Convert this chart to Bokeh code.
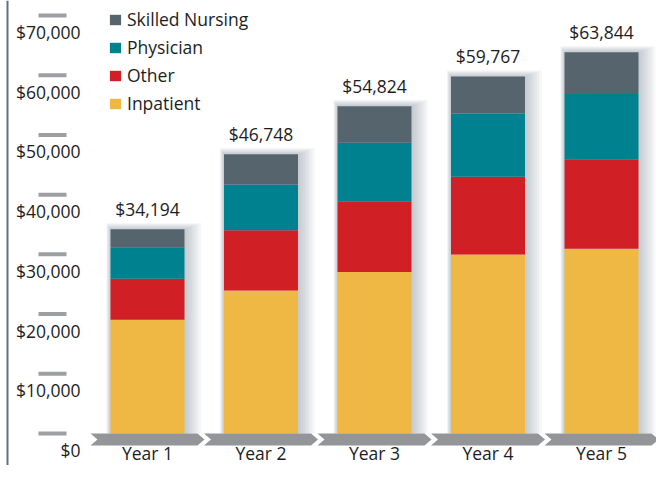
from bokeh.plotting import figure
from bokeh.models import Range1d, ColumnDataSource, Legend, LegendItem
from bokeh.core.properties import value
from bokeh.embed import file_html
from bokeh.resources import INLINE

# ---------------- data ----------------
years = ["Year 1", "Year 2", "Year 3", "Year 4", "Year 5"]
totals = [34194, 46748, 54824, 59767, 63844]
inpatient = [19050, 23940, 27040, 29970, 30940]
other = [6850, 10100, 11860, 13030, 14990]
physician = [5200, 7660, 9800, 10580, 10910]
skilled = [3090, 5050, 6120, 6190, 7000]
series = ["Inpatient", "Other", "Physician", "Skilled Nursing"]
colors = ["#efb744", "#d11f26", "#00818f", "#56646e"]
y_ticks = [0, 10000, 20000, 30000, 40000, 50000, 60000, 70000]
y_tick_labels = ["$0", "$10,000", "$20,000", "$30,000", "$40,000",
                 "$50,000", "$60,000", "$70,000"]

# ---------------- layout ----------------
W, H = 656, 465
CAT_PX = 113.5        # pixels per category
FIRST_PX = 147        # pixel centre of first category
ZERO_PX = 433         # pixel row of $0 (from top)
TOP_PX = 15           # pixel row of $70,000
PX_PER_VAL = (ZERO_PX - TOP_PX) / 70000.0

X0 = -FIRST_PX / CAT_PX
X1 = (W - FIRST_PX) / CAT_PX
Y1 = ZERO_PX / PX_PER_VAL
Y0 = -(H - ZERO_PX) / PX_PER_VAL


def xpx(px):
    return X0 + px / CAT_PX


def dxp(px):
    return px / CAT_PX


def dyp(px):
    return px / PX_PER_VAL


FONT_NAME = "Open Sans"
FONT = value(FONT_NAME)
FSIZE = "17.5px"
TEXT_COLOR = "#1d1d1f"
BAR_W = 74
TXT_SHIFT = 6.5   # renderer places alphabetic baseline this much lower

p = figure(width=W, height=H, x_range=Range1d(X0, X1), y_range=Range1d(Y0, Y1),
           output_backend="svg", toolbar_location=None,
           x_axis_location=None, y_axis_location=None, min_border=0)
p.grid.visible = False
p.outline_line_color = None
p.background_fill_color = "white"
p.border_fill_color = "white"

xs = list(range(len(years)))
source = ColumnDataSource(dict(x=xs, Inpatient=inpatient, Other=other,
                               Physician=physician,
                               **{"Skilled Nursing": skilled}))

# soft shadows behind bars
stack_tops = [a + b + c + d for a, b, c, d in zip(inpatient, other, physician, skilled)]
for k in range(1, 8):
    p.quad(left=[x - dxp(BAR_W / 2 + 0.6 * k) for x in xs],
           right=[x + dxp(BAR_W / 2 + 2.4 * k) for x in xs],
           top=[t + dyp(0.9 * k) for t in stack_tops],
           bottom=[0] * len(xs),
           fill_color="#5a6d7c", fill_alpha=0.055, line_color=None)

# stacked bars
rs = p.vbar_stack(series, x="x", width=dxp(BAR_W), color=colors,
                  line_color=None, source=source)

# chevron base band
cx, cy = [], []
for x in xs:
    cx.append([x - dxp(57), x - dxp(50), x - dxp(57), x + dxp(50), x + dxp(57), x + dxp(50)])
    cy.append([0, -dyp(6), -dyp(12), -dyp(12), -dyp(6), 0])
p.patches(cx, cy, fill_color="#939598", line_color=None)

# left axis line
p.segment(x0=[xpx(7)], y0=[Y0], x1=[xpx(7)], y1=[Y1],
          line_color="#62717c", line_width=2)

# y tick dashes and labels
p.segment(x0=[xpx(38)] * len(y_ticks), x1=[xpx(66)] * len(y_ticks),
          y0=y_ticks, y1=y_ticks, line_color="#9d9fa2", line_width=4)
p.text(x=[xpx(80)] * len(y_ticks), y=y_ticks, text=y_tick_labels,
       text_font=FONT, text_font_size=FSIZE, text_color=TEXT_COLOR,
       text_align="right", text_baseline="alphabetic", y_offset=23 - TXT_SHIFT)

# category labels
p.text(x=xs, y=[0] * len(xs), text=years, text_font=FONT,
       text_font_size=FSIZE, text_color=TEXT_COLOR,
       text_align="center", text_baseline="alphabetic", y_offset=26 - TXT_SHIFT)

# total labels
p.text(x=xs, y=totals, text=[f"${t:,}" for t in totals], text_font=FONT,
       text_font_size=FSIZE, text_color=TEXT_COLOR,
       text_align="center", text_baseline="alphabetic", y_offset=-14 - TXT_SHIFT)

# legend (top item = top of stack)
items = [LegendItem(label=s, renderers=[r]) for s, r in zip(series, rs)][::-1]
legend = Legend(items=items, location=(108, 350), orientation="vertical",
                glyph_width=14, glyph_height=13, label_height=20,
                label_standoff=5, spacing=4, padding=0, margin=0,
                label_text_font=FONT_NAME, label_text_font_size=FSIZE,
                label_text_color=TEXT_COLOR,
                border_line_color=None, background_fill_alpha=0)
p.add_layout(legend)

open("out.html", "w").write(file_html(p, INLINE))
